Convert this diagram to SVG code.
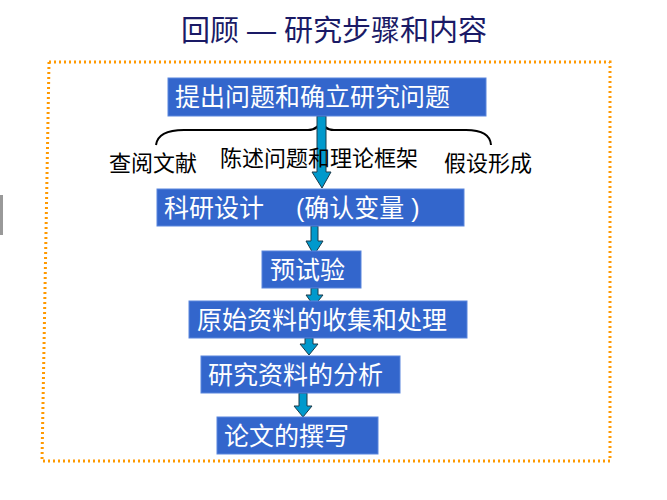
<svg xmlns="http://www.w3.org/2000/svg" width="667" height="500" viewBox="0 0 667 500">
<style>
.box{fill:#3366cc;stroke:#5a86dd;stroke-width:1}
.bt{fill:#fff;font-family:"Liberation Sans","Noto Sans CJK SC",sans-serif;font-size:25px}
.lb{fill:#000;font-family:"Liberation Sans","Noto Sans CJK SC",sans-serif;font-size:22px}
.ar{fill:#0099cc;stroke:#1a3a4a;stroke-width:1}
</style>
<rect width="667" height="500" fill="#fff"/>
<rect x="0" y="195" width="3" height="40" fill="#999"/>
<text x="334" y="41" text-anchor="middle" font-family="Liberation Sans,Noto Sans CJK SC,sans-serif" font-size="29" fill="#1a1a66">回顾 — 研究步骤和内容</text>
<path d="M49,62 H610 V461 H42 Z" fill="none" stroke="#ff9900" stroke-width="3" stroke-dasharray="2 3"/>
<g id="connectors">
<path d="M156,145 Q158,130 184,130 L308,130 Q319,130 321,119 Q323,130 334,130 L466,130 Q490,130 491,145" fill="none" stroke="#000" stroke-width="2"/>
<path class="ar" d="M317,116 H326 V172 H331 L322,188 L312,172 H317 Z"/>
<path class="ar" d="M311,226 H318 V241 H323 L314,255 L306,241 H311 Z"/>
<path class="ar" d="M311,288 H318 V295 H323 L314,306 L306,295 H311 Z"/>
<path class="ar" d="M305,338 H313 V344 H318 L309,355 L300,344 H305 Z"/>
<path class="ar" d="M299,393 H307 V406 H312 L303,417 L294,406 H299 Z"/>
</g>
<g id="n1"><rect class="box" x="168" y="78" width="318" height="38"/><text class="bt" x="175" y="106" font-size="26">提出问题和确立研究问题</text></g>
<g id="l1"><text class="lb" x="109" y="171">查阅文献</text></g>
<g id="l2"><text class="lb" x="220" y="166">陈述问题和理论框架</text></g>
<g id="l3"><text class="lb" x="444" y="171">假设形成</text></g>
<g id="n2"><rect class="box" x="157" y="189" width="307" height="37"/><text class="bt" x="164" y="217">科研设计　 (确认变量 )</text></g>
<g id="n3"><rect class="box" x="262" y="251" width="99" height="37"/><text class="bt" x="270" y="279">预试验</text></g>
<g id="n4"><rect class="box" x="189" y="301" width="278" height="37"/><text class="bt" x="197" y="329">原始资料的收集和处理</text></g>
<g id="n5"><rect class="box" x="201" y="356" width="199" height="37"/><text class="bt" x="208" y="384">研究资料的分析</text></g>
<g id="n6"><rect class="box" x="217" y="417" width="161" height="37"/><text class="bt" x="224" y="445">论文的撰写</text></g>
</svg>
